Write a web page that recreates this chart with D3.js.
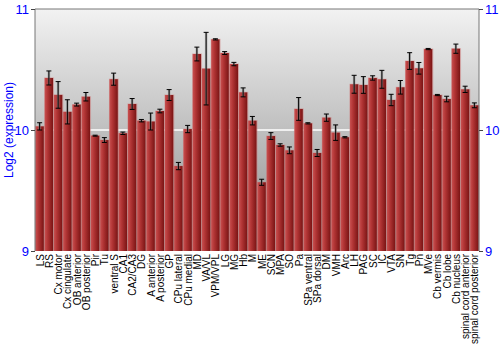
<!DOCTYPE html>
<html lang="en">
<head>
  <meta charset="UTF-8">
  <title>Log2 expression</title>
  <style>
    body { margin: 0; background: #ffffff; }
    text { font-family: "Liberation Sans", Arial, sans-serif; }
  </style>
  <script type="text/javascript" src="https://d3js.org/d3.v7.min.js"></script>
</head>
<body>
</body>
<script type="text/javascript">

  var regions = ["LS", "RS", "Cx motor", "Cx cingulate", "OB anterior", "OB posterior", "Pir", "Tu",
    "ventral S", "CA1", "CA2/CA3", "DG", "A anterior", "A posterior", "GP", "CPu lateral", "CPu medial",
    "MD", "VA/VL", "VPM/VPL", "LG", "MG", "Hb", "M", "ME", "SCN", "MPA", "SO", "Pa", "SPa ventral",
    "SPa dorsal", "DM", "VMH", "Arc", "LH", "PAG", "SC", "IC", "VTA", "SN", "Tg", "Pn", "MVe",
    "Cb vermis", "Cb lobe", "Cb nucleus", "spinal cord anterior", "spinal cord posterior"];

  var means = [10.03, 10.43, 10.29, 10.15, 10.21, 10.275, 9.953, 9.917,
    10.42, 9.973, 10.215, 10.077, 10.07, 10.157, 10.289, 9.702, 10.008,
    10.628, 10.507, 10.749, 10.636, 10.545, 10.311, 10.077, 9.568, 9.95, 9.876, 9.832, 10.174, 10.055,
    9.81, 10.102, 9.978, 9.94, 10.378, 10.372, 10.43, 10.419, 10.248, 10.353, 10.57, 10.51, 10.669,
    10.289, 10.256, 10.672, 10.336, 10.204];

  var errors = [0.03, 0.058, 0.11, 0.1, 0.012, 0.035, 0.004, 0.02,
    0.05, 0.01, 0.045, 0.01, 0.07, 0.015, 0.045, 0.03, 0.03,
    0.057, 0.3, 0.005, 0.012, 0.014, 0.037, 0.035, 0.025, 0.028, 0.01, 0.028, 0.094, 0.005,
    0.029, 0.03, 0.064, 0.005, 0.074, 0.069, 0.018, 0.074, 0.047, 0.056, 0.069, 0.048, 0.005,
    0.005, 0.023, 0.038, 0.026, 0.02];

  var yTicks = [9, 10, 11];

  var data = regions.map(function(r, i) {
    return {name: r, value: means[i], err: errors[i]};
  });

  var width = 500, height = 350;
  var margin = {top: 9, right: 21, bottom: 99, left: 35};

  var svg = d3.select("body")
    .append("svg")
    .attr("width", width)
    .attr("height", height);

  var defs = svg.append("defs");

  var bg = defs.append("linearGradient")
    .attr("id", "bg-grad")
    .attr("x1", 0).attr("y1", 0).attr("x2", 0).attr("y2", 1);
  bg.append("stop").attr("offset", "0%").attr("stop-color", "#f2f2f2");
  bg.append("stop").attr("offset", "100%").attr("stop-color", "#8c8c8c");

  var barGrad = defs.append("linearGradient")
    .attr("id", "bar-grad")
    .attr("x1", 0).attr("y1", 0).attr("x2", 1).attr("y2", 0);
  barGrad.append("stop").attr("offset", "0%").attr("stop-color", "#c85050");
  barGrad.append("stop").attr("offset", "35%").attr("stop-color", "#b23535");
  barGrad.append("stop").attr("offset", "100%").attr("stop-color", "#7a1414");

  var plotW = width - margin.left - margin.right;
  var plotH = height - margin.top - margin.bottom;

  var x = d3.scaleBand()
    .domain(regions)
    .range([0, plotW])
    .paddingInner(0.1)
    .paddingOuter(0.05);

  var y = d3.scaleLinear()
    .domain([9, 11])
    .range([plotH, 0]);

  var plot_area = svg.append("g")
    .attr("transform", "translate(" + margin.left + "," + margin.top + ")");

  plot_area.append("rect")
    .attr("width", plotW)
    .attr("height", plotH)
    .attr("fill", "url(#bg-grad)");

  // white line at 10
  plot_area.append("line")
    .attr("x1", 0).attr("x2", plotW)
    .attr("y1", y(10)).attr("y2", y(10))
    .attr("stroke", "#ffffff")
    .attr("stroke-width", 1.5);

  // bars with soft halo
  plot_area.selectAll("rect.halo")
    .data(data)
    .enter()
    .append("rect")
    .attr("class", "halo")
    .attr("x", function(d) { return x(d.name) - 0.5; })
    .attr("y", function(d) { return y(d.value) - 0.5; })
    .attr("width", x.bandwidth() + 1.5)
    .attr("height", function(d) { return plotH - y(d.value) + 0.5; })
    .attr("fill", "#d08080")
    .attr("opacity", 0.55);

  plot_area.selectAll("rect.bar")
    .data(data)
    .enter()
    .append("rect")
    .attr("class", "bar")
    .attr("x", function(d) { return x(d.name); })
    .attr("y", function(d) { return y(d.value); })
    .attr("width", x.bandwidth())
    .attr("height", function(d) { return plotH - y(d.value); })
    .attr("fill", "url(#bar-grad)");

  // error bars
  var eb = plot_area.selectAll("g.err")
    .data(data)
    .enter()
    .append("g")
    .attr("class", "err")
    .attr("transform", function(d) { return "translate(" + (x(d.name) + x.bandwidth() / 2) + ",0)"; });

  eb.append("line")
    .attr("x1", 0).attr("x2", 0)
    .attr("y1", function(d) { return y(d.value + d.err); })
    .attr("y2", function(d) { return y(d.value - d.err); })
    .attr("stroke", "#888888")
    .attr("stroke-width", 2.5)
    .attr("opacity", 0.6);

  eb.append("line")
    .attr("x1", 0).attr("x2", 0)
    .attr("y1", function(d) { return y(d.value + d.err); })
    .attr("y2", function(d) { return y(d.value - d.err); })
    .attr("stroke", "#000000")
    .attr("stroke-width", 1);

  eb.selectAll("line.cap")
    .data(function(d) { return [d.value + d.err, d.value - d.err]; })
    .enter()
    .append("line")
    .attr("class", "cap")
    .attr("x1", -2.5).attr("x2", 2.5)
    .attr("y1", function(v) { return y(v); })
    .attr("y2", function(v) { return y(v); })
    .attr("stroke", "#000000")
    .attr("stroke-width", 1);

  // frame
  plot_area.append("path")
    .attr("d", "M0," + plotH + "V0H" + plotW + "V" + plotH)
    .attr("fill", "none")
    .attr("stroke", "#777777")
    .attr("stroke-width", 1);

  var yAxisL = d3.axisLeft(y).tickValues(yTicks).tickFormat(d3.format("d")).tickSize(4).tickPadding(2);
  var yAxisR = d3.axisRight(y).tickValues(yTicks).tickFormat(d3.format("d")).tickSize(4).tickPadding(2);

  var gl = plot_area.append("g").call(yAxisL);
  var gr = plot_area.append("g").attr("transform", "translate(" + plotW + ",0)").call(yAxisR);

  [gl, gr].forEach(function(g) {
    g.select(".domain").remove();
    g.selectAll(".tick line").attr("stroke", "#444444");
    g.selectAll(".tick text")
      .attr("fill", "#0000ff")
      .style("font-size", "13px")
      .style("font-family", "'Liberation Sans', Arial, sans-serif");
  });

  // x labels
  plot_area.append("g")
    .selectAll("text")
    .data(regions)
    .enter()
    .append("text")
    .attr("transform", function(d) {
      return "translate(" + (x(d) + x.bandwidth() / 2 + 4) + "," + (plotH + 3) + ") rotate(-90)";
    })
    .attr("text-anchor", "end")
    .style("font-size", "10px")
    .attr("fill", "#000000")
    .text(function(d) { return d; });

  svg.append("text")
    .attr("transform", "translate(13," + (margin.top + plotH / 2) + ") rotate(-90)")
    .attr("text-anchor", "middle")
    .attr("fill", "#0000ff")
    .style("font-size", "12px")
    .text("Log2 (expression)");

</script>
</html>
